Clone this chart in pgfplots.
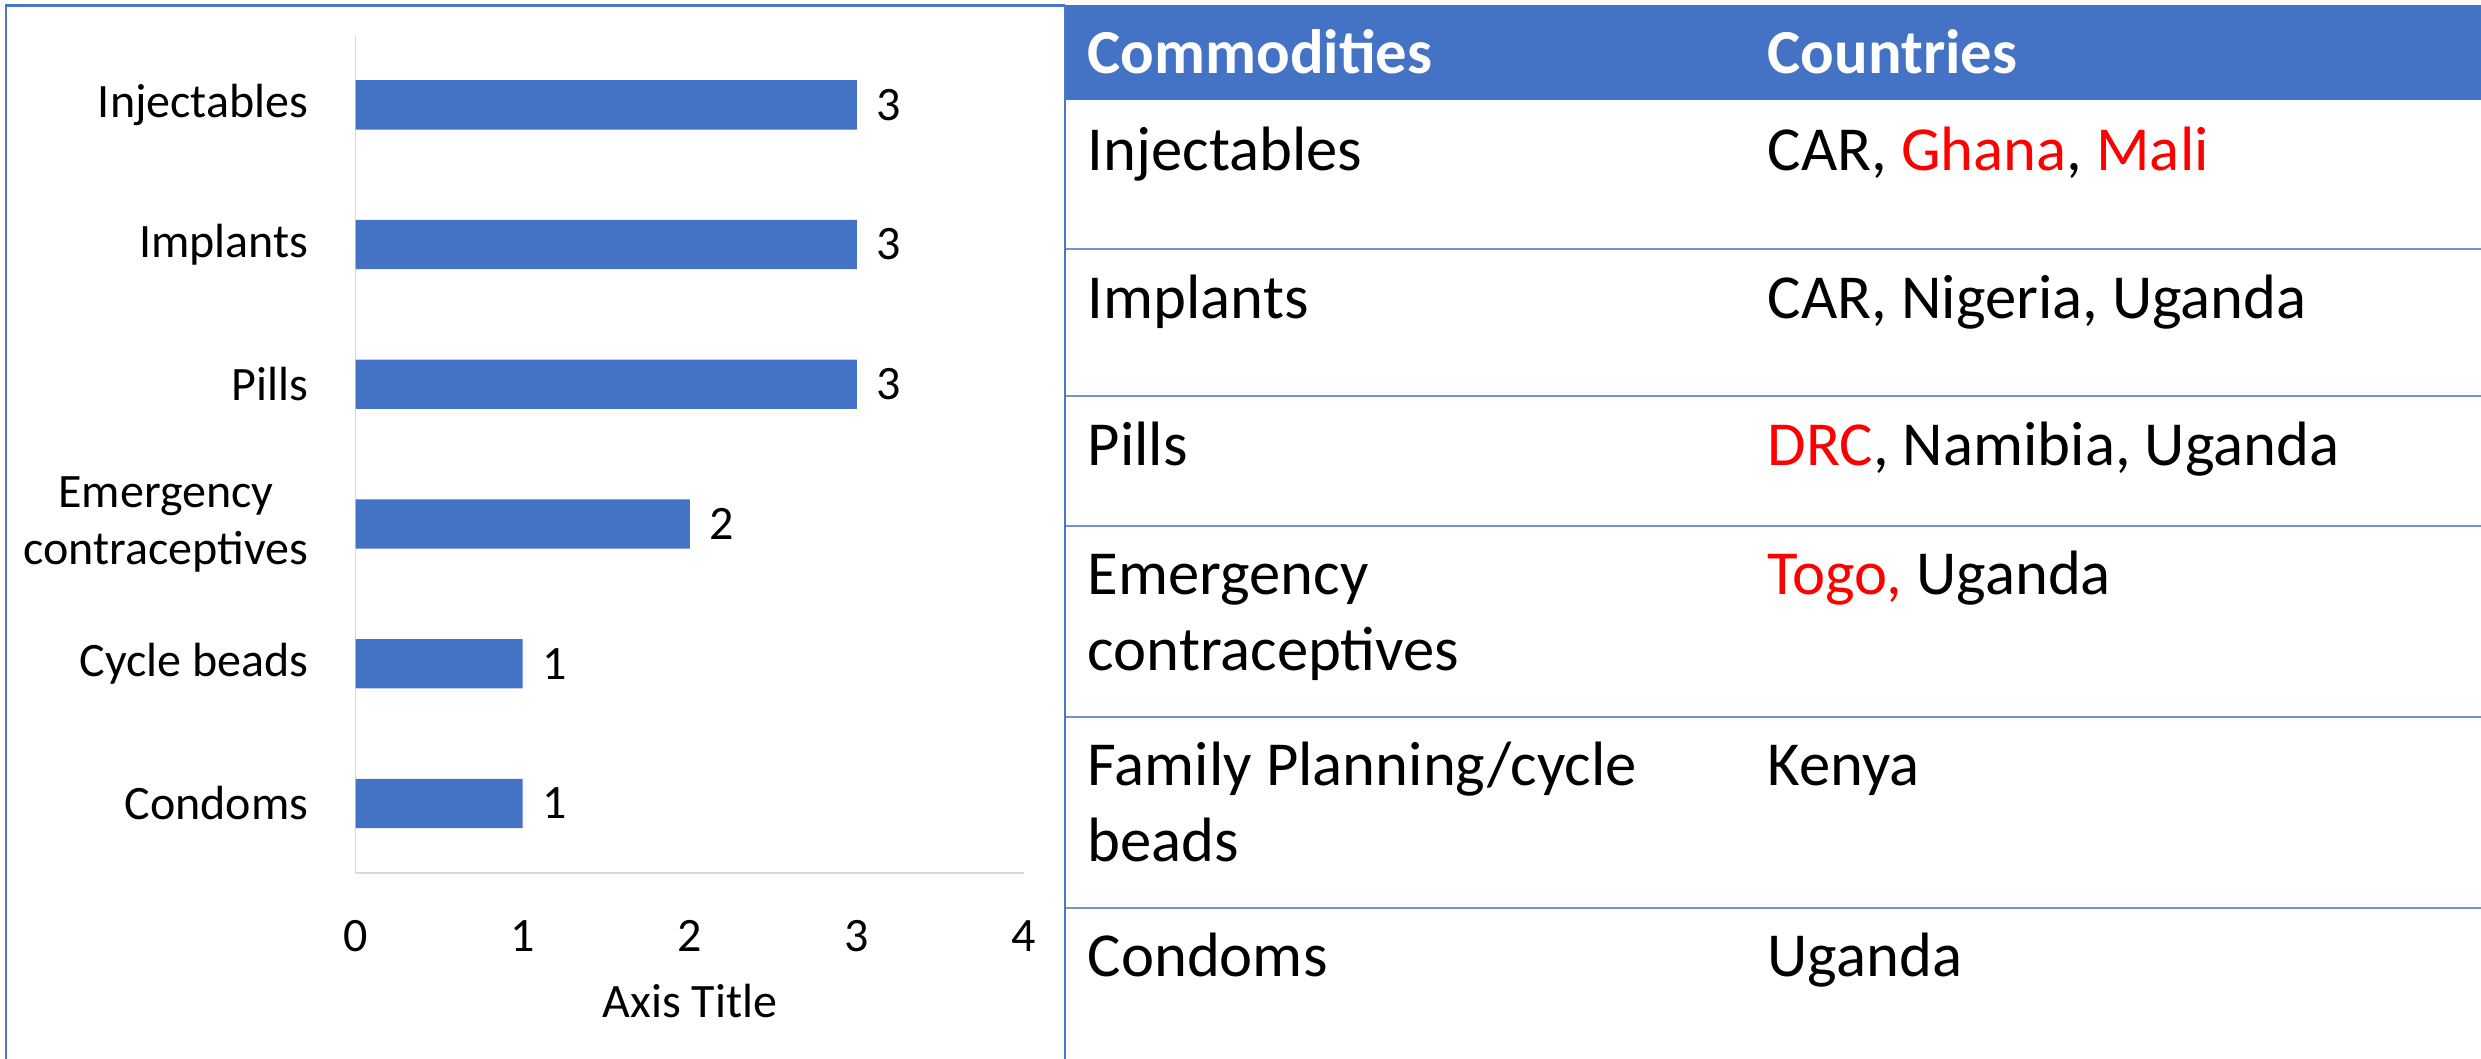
\documentclass[border=0pt]{standalone}
\usepackage{fontspec}
\setmainfont{Carlito}
\usepackage{pgfplots}
\pgfplotsset{compat=1.18}
\definecolor{barblue}{HTML}{4472C4}
\definecolor{framblue}{HTML}{4A78C8}
\definecolor{rowblue}{HTML}{6F93D6}
\definecolor{axisgray}{HTML}{D9D9D9}
\definecolor{redtxt}{HTML}{FF0000}
\newcommand{\cf}{\fontsize{14.4}{17.1}\selectfont}
\newcommand{\tf}{\fontsize{18.8}{22.8}\selectfont}
\begin{document}
\begin{tikzpicture}
\path[use as bounding box] (0,0) rectangle (744.3pt,317.7pt);
% chart frame
\draw[framblue, line width=0.75pt] (1.8pt,0pt) -- (1.8pt,316.05pt) -- (319.5pt,316.05pt);
\draw[framblue, line width=0.75pt] (319.5pt,0pt) -- (319.5pt,316.3pt);
% table header
\fill[barblue] (319.8pt,287.7pt) rectangle (744.3pt,316.2pt);
\foreach \yy in {243.0,198.75,159.75,102.6,45.3}{
  \draw[rowblue, line width=0.6pt] (319.8pt,\yy pt) -- (744.3pt,\yy pt);
}
\begin{scope}[every node/.style={anchor=base west, inner sep=0pt, font=\tf}]
\node[text=white, font=\tf\bfseries] at (326.1pt,295.5pt) {Commodities};
\node[text=white, font=\tf\bfseries] at (530.1pt,295.5pt) {Countries};
\node at (326.1pt,266.4pt) {Injectables};
\node at (530.1pt,266.4pt) {CAR, \textcolor{redtxt}{Ghana}, \textcolor{redtxt}{Mali}};
\node at (326.1pt,222.0pt) {Implants};
\node at (530.1pt,222.0pt) {CAR, Nigeria, Uganda};
\node at (326.1pt,178.05pt) {Pills};
\node at (530.1pt,178.05pt) {\textcolor{redtxt}{DRC}, Namibia, Uganda};
\node at (326.1pt,139.2pt) {Emergency};
\node at (326.1pt,116.4pt) {contraceptives};
\node at (530.1pt,139.2pt) {\textcolor{redtxt}{Togo,} Uganda};
\node at (326.1pt,81.9pt) {Family Planning/cycle};
\node at (326.1pt,59.1pt) {beads};
\node at (530.1pt,81.9pt) {Kenya};
\node at (326.1pt,24.75pt) {Condoms};
\node at (530.1pt,24.75pt) {Uganda};
\end{scope}
\begin{axis}[
  at={(106.7pt,55.7pt)}, anchor=south west,
  scale only axis, width=200.5pt, height=251.5pt,
  xbar, bar width=14.8pt,
  xmin=0, xmax=4, ymin=-0.5, ymax=5.5,
  ytick={0,1,2,3,4,5},
  yticklabels={Condoms,Cycle beads,{Emergency\\contraceptives},Pills,Implants,Injectables},
  xtick={0,1,2,3,4},
  axis x line*=bottom, axis y line*=left,
  axis line style={draw=axisgray, line width=0.5pt},
  major tick length=0pt, tick style={draw=none},
  /pgf/number format/assume math mode=true,
  xticklabel style={anchor=base, yshift=-23.6pt, inner sep=0pt, font=\cf},
  yticklabel style={anchor=east, inner sep=0pt, xshift=-14pt, align=center, font=\cf},
  xlabel={Axis Title},
  xlabel style={at={(axis description cs:0.5,0)}, anchor=base, yshift=-43.4pt, inner sep=0pt, font=\cf},
  nodes near coords,
  every node near coord/.append style={anchor=west, inner sep=0pt, xshift=5.6pt, font=\cf, text=black},
  clip=false,
]
\addplot[fill=barblue, draw=none] coordinates {(1,0) (1,1) (2,2) (3,3) (3,4) (3,5)};
\end{axis}
\end{tikzpicture}
\end{document}
